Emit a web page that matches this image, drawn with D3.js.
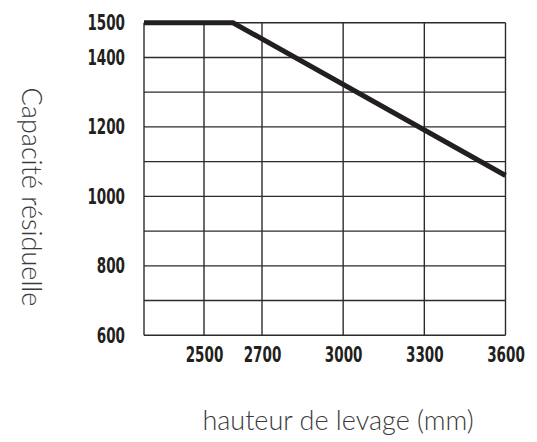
<!DOCTYPE html>
<html>
<head>
<meta charset="utf-8">
<script src="https://cdn.jsdelivr.net/npm/d3@7"></script>
<style>
  body { margin: 0; background: #fff; }
  .tick text { font-family: "DejaVu Sans", sans-serif; font-stretch: condensed; font-weight: bold; font-size: 21px; fill: #231f20; }
  .title { font-family: Lato, "Noto Sans", sans-serif; font-weight: 300; font-size: 27px; fill: #3a3a3a; }
</style>
</head>
<body>
<svg id="chart" width="537" height="442"></svg>
<script>
// heights (mm) and remaining capacity
var heights = [2280, 2600, 3600];
var capacity = [1500, 1500, 1060];
var xTicks = [2500, 2700, 3000, 3300, 3600];
var yTicks = [600, 800, 1000, 1200, 1400, 1500];
var yGrid = [600, 700, 800, 900, 1000, 1100, 1200, 1300, 1400, 1500];

var svg = d3.select("#chart");
var pl = 144, pr = 505.5, pt = 22.7, pb = 335.3;

// the drawing is not quite linear below 2700, so piecewise
var x = d3.scaleLinear()
	.domain([2280, 2500, 2700, 3600])
	.range([pl, 204, 262, pr]);
var y = d3.scaleLinear().domain([600, 1500]).range([pb, pt]);

var grid = svg.append("g");
grid.selectAll(".hg").data(yGrid).enter().append("line")
	.attr("x1", pl).attr("x2", pr)
	.attr("y1", function(d){ return y(d) }).attr("y2", function(d){ return y(d) })
	.style("stroke", "#2b2b2b").style("stroke-width", 1.4);
grid.selectAll(".vg").data([2280].concat(xTicks)).enter().append("line")
	.attr("y1", pt).attr("y2", pb)
	.attr("x1", function(d){ return x(d) }).attr("x2", function(d){ return x(d) })
	.style("stroke", "#2b2b2b").style("stroke-width", 1.4);

var xAxis = svg.append("g")
	.attr("transform", "translate(0," + pb + ")")
	.call(d3.axisBottom(x).tickValues(xTicks).tickFormat(d3.format("d")).tickSize(0).tickPadding(12));
xAxis.select(".domain").remove();

var yAxis = svg.append("g")
	.attr("transform", "translate(" + pl + ",0)")
	.call(d3.axisLeft(y).tickValues(yTicks).tickFormat(d3.format("d")).tickSize(0).tickPadding(19));
yAxis.select(".domain").remove();

// squeeze the digits like the condensed face in the drawing
svg.selectAll(".tick text")
	.attr("textLength", function(d){ return String(d).length * 9.4 })
	.attr("lengthAdjust", "spacingAndGlyphs");

var pts = heights.map(function(h, i){ return [h, capacity[i]] });
svg.append("path")
	.datum(pts)
	.attr("d", d3.line().x(function(d){ return x(d[0]) }).y(function(d){ return y(d[1]) }))
	.style("fill", "none")
	.style("stroke", "#231f20")
	.style("stroke-width", 5)
	.style("stroke-linejoin", "miter");

svg.append("text").attr("class", "title")
	.attr("x", 338).attr("y", 430)
	.attr("text-anchor", "middle")
	.text("hauteur de levage (mm)");

svg.append("text").attr("class", "title")
	.attr("transform", "translate(21.5,197) rotate(90)")
	.attr("text-anchor", "middle")
	.text("Capacité résiduelle");
</script>
</body>
</html>
